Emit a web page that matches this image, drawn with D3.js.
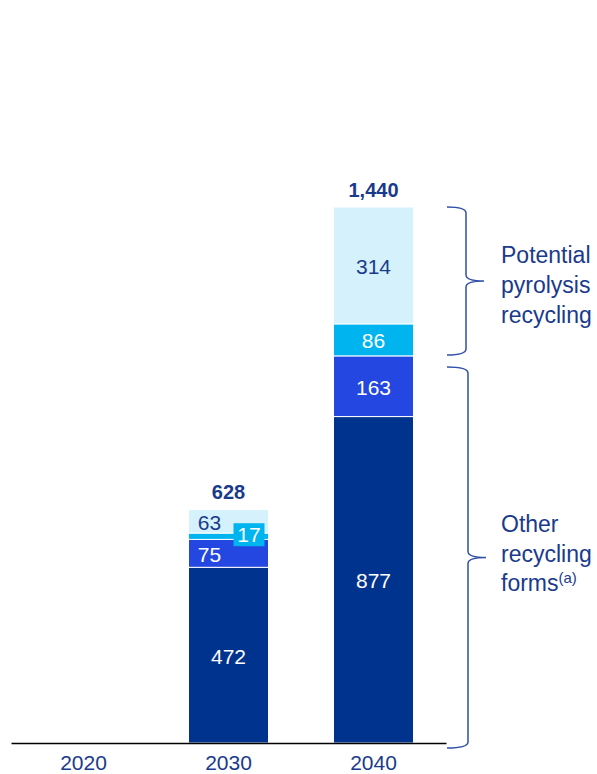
<!DOCTYPE html>
<html>
<head>
<meta charset="utf-8">
<script src="https://cdn.jsdelivr.net/npm/d3@7"></script>
<style>
  html, body { margin: 0; padding: 0; background: #fff; }
  svg { display: block; font-family: "Liberation Sans", Arial, sans-serif; }
</style>
</head>
<body>
<svg id="chart" width="597" height="774"></svg>
<script>
// Recycling volumes by year, stacked bottom to top
const years = ["2020", "2030", "2040"];
const seriesNames = ["Other recycling", "Other recycling (b)", "Pyrolysis", "Pyrolysis potential"];
const otherBase = [0, 472, 877];
const otherExtra = [0, 75, 163];
const pyrolysis = [0, 17, 86];
const pyrolysisPotential = [0, 63, 314];
const totals = [null, 628, 1440];
const colors = ["#00338d", "#2347e0", "#00b4ef", "#d5f2fc"];
const labelColors = ["#ffffff", "#ffffff", "#ffffff", "#1a3a8c"];

const groupLabels = [["Potential", "pyrolysis", "recycling"], ["Other", "recycling", "forms"]];

const svg = d3.select("#chart");

const x = d3.scaleBand().domain(years).range([11, 446]).paddingInner(0.45).paddingOuter(0.225);
const y = d3.scaleLinear().domain([0, 1440]).range([743, 207]);

const series = [otherBase, otherExtra, pyrolysis, pyrolysisPotential];
const rows = years.map((yr, i) => {
  const r = { year: yr };
  series.forEach((s, k) => r["s" + k] = s[i]);
  return r;
});
const stack = d3.stack().keys(series.map((_, k) => "s" + k));
const stacked = stack(rows);

const bw = 80;
const cx = yr => x(yr) + x.bandwidth() / 2;

// Bars
stacked.forEach((layer, k) => {
  svg.append("g").selectAll("rect")
    .data(layer.filter(d => d[1] - d[0] > 0))
    .join("rect")
    .attr("x", d => cx(d.data.year) - bw / 2)
    .attr("width", bw)
    .attr("y", d => y(d[1]))
    .attr("height", d => y(d[0]) - y(d[1]))
    .attr("fill", colors[k])
    .attr("stroke", "#ffffff")
    .attr("stroke-width", 1);
});

// Segment value labels
stacked.forEach((layer, k) => {
  layer.forEach(d => {
    const v = d[1] - d[0];
    if (v <= 0) return;
    const yr = d.data.year;
    const mid = (y(d[0]) + y(d[1])) / 2;
    if (yr === "2030" && k === 2) {
      // small segment: label in a callout box
      const bx = cx(yr) + 5, by = mid - 10;
      svg.append("rect").attr("x", bx).attr("y", by - 3).attr("width", 31).attr("height", 23)
        .attr("fill", colors[k]);
      svg.append("text").attr("x", bx + 15.5).attr("y", by + 8.5)
        .attr("text-anchor", "middle").attr("dominant-baseline", "central")
        .attr("font-size", 21).attr("fill", "#ffffff").text(v);
      return;
    }
    const tx = yr === "2030" && (k === 1 || k === 3) ? cx(yr) - 19 : cx(yr);
    svg.append("text").attr("x", tx).attr("y", mid + 1)
      .attr("text-anchor", "middle").attr("dominant-baseline", "central")
      .attr("font-size", 21).attr("fill", labelColors[k]).text(v);
  });
});

// Totals
years.forEach((yr, i) => {
  if (totals[i] == null) return;
  svg.append("text").attr("x", cx(yr)).attr("y", y(totals[i]) - 10)
    .attr("text-anchor", "middle").attr("font-size", 20).attr("font-weight", "bold")
    .attr("fill", "#1a3a8c").text(d3.format(",")(totals[i]));
});

// Axis
const axis = svg.append("g").attr("transform", `translate(0,${y(0)})`)
  .call(d3.axisBottom(x).tickSize(0).tickPadding(11));
axis.select(".domain").attr("stroke", "#000").attr("stroke-width", 1.5);
axis.selectAll("text").attr("font-size", 21).attr("fill", "#1a3a8c")
  .attr("font-family", "Liberation Sans, Arial, sans-serif").attr("dy", "0.75em");

// Curly brackets
function brace(x0, y0, y1, w, tip) {
  const ym = (y0 + y1) / 2;
  const xv = x0 + w;
  const r = 6;
  return `M${x0},${y0} Q${xv},${y0} ${xv},${y0 + r} L${xv},${ym - r} Q${xv},${ym} ${xv + tip},${ym}` +
    ` Q${xv},${ym} ${xv},${ym + r} L${xv},${y1 - r} Q${xv},${y1} ${x0},${y1}`;
}
const i40 = 2;
const topStart = y(otherBase[i40] + otherExtra[i40]);
const braces = [
  { y0: y(totals[i40]), y1: topStart - 1 },
  { y0: topStart + 11, y1: y(0) + 5 }
];
braces.forEach((b, j) => {
  svg.append("path").attr("d", brace(447, b.y0, b.y1, 19 + j * 2, 18))
    .attr("fill", "none").attr("stroke", "#3050a8").attr("stroke-width", 1.5);
});

// Group labels
const t1 = svg.append("text").attr("font-size", 23).attr("fill", "#1a3a8c");
groupLabels[0].forEach((s, i) => {
  t1.append("tspan").attr("x", 501).attr("y", 263 + i * 30).text(s);
});
const t2 = svg.append("text").attr("font-size", 23).attr("fill", "#1a3a8c");
groupLabels[1].forEach((s, i) => {
  t2.append("tspan").attr("x", 501).attr("y", 532 + i * 29.5).text(s);
});
t2.append("tspan").attr("font-size", 15).attr("dy", -8).text("(a)");
</script>
</body>
</html>
